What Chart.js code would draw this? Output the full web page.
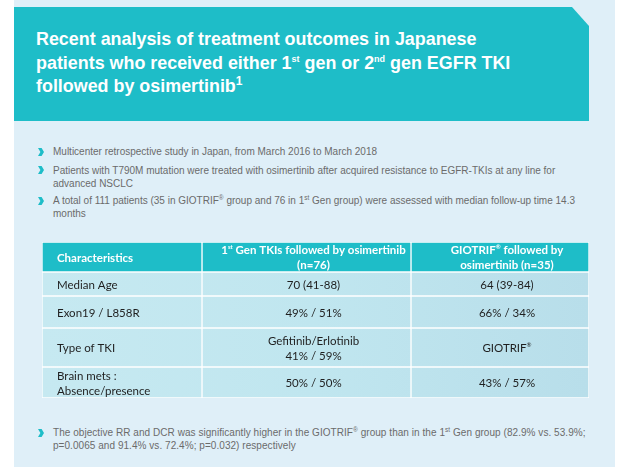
<!DOCTYPE html>
<html><head><meta charset="utf-8">
<script src="https://cdn.jsdelivr.net/npm/chart.js@4.4.1/dist/chart.umd.min.js"></script>
<style>
body{margin:0;width:632px;height:467px;background:#fff;position:relative;overflow:hidden;font-family:"Liberation Sans",Arial,sans-serif;}
#panel{position:absolute;left:14px;top:0;width:601px;height:467px;background:#dfeff8;}
#title{position:absolute;left:14px;top:7px;width:575px;height:114px;background:#1ebdc8;clip-path:polygon(0 0,558px 0,575px 19px,575px 114px,0 114px);}
#titletext{position:absolute;left:36px;top:28px;color:#fff;font-weight:bold;font-size:17.9px;line-height:23.5px;white-space:nowrap;}
#titletext .s{font-size:9px;vertical-align:7px;line-height:0;}
#titletext .s1{font-size:12px;vertical-align:7px;line-height:0;}
.b{position:absolute;left:53px;font-size:10px;line-height:13px;color:#6b6b6b;white-space:nowrap;}
.b .s{font-size:6.5px;vertical-align:4px;line-height:0;}
.chev{position:absolute;left:38px;width:6px;height:8px;}
#table{position:absolute;left:42px;top:242px;}
#table canvas{display:block;}
</style></head>
<body>
<div id="panel"></div>
<div id="title"></div>
<div id="titletext">Recent analysis of treatment outcomes in Japanese<br>patients who received either 1<span class="s">st</span> gen or 2<span class="s">nd</span> gen EGFR TKI<br>followed by osimertinib<span class="s1">1</span></div>

<svg class="chev" style="top:148px" viewBox="0 0 6 8"><polygon points="0,0 3.6,0 6,4 3.6,8 0,8 2.4,4" fill="#1ebdc8"/></svg>
<div class="b" style="top:145px">Multicenter retrospective study in Japan, from March 2016 to March 2018</div>
<svg class="chev" style="top:166px" viewBox="0 0 6 8"><polygon points="0,0 3.6,0 6,4 3.6,8 0,8 2.4,4" fill="#1ebdc8"/></svg>
<div class="b" style="top:163.5px">Patients with T790M mutation were treated with osimertinib after acquired resistance to EGFR-TKIs at any line for<br>advanced NSCLC</div>
<svg class="chev" style="top:197px" viewBox="0 0 6 8"><polygon points="0,0 3.6,0 6,4 3.6,8 0,8 2.4,4" fill="#1ebdc8"/></svg>
<div class="b" style="top:194px">A total of 111 patients (35 in GIOTRIF<span class="s">®</span> group and 76 in 1<span class="s">st</span> Gen group) were assessed with median follow-up time 14.3<br>months</div>

<div id="table"></div>

<svg class="chev" style="top:429px" viewBox="0 0 6 8"><polygon points="0,0 3.6,0 6,4 3.6,8 0,8 2.4,4" fill="#1ebdc8"/></svg>
<div class="b" style="top:426px;letter-spacing:0.05px">The objective RR and DCR was significantly higher in the GIOTRIF<span class="s">®</span> group than in the 1<span class="s">st</span> Gen group (82.9% vs. 53.9%;<br>p=0.0065 and 91.4% vs. 72.4%; p=0.032) respectively</div>

<script>
// ---- data ----
const headers = ['Characteristics', '1^{st} Gen TKIs followed by osimertinib\n(n=76)', 'GIOTRIF^{®} followed by\nosimertinib (n=35)'];
const characteristics = ['Median Age', 'Exon19 / L858R', 'Type of TKI', 'Brain mets :\nAbsence/presence'];
const firstGenValues = ['70 (41-88)', '49% / 51%', 'Gefitinib/Erlotinib\n41% / 59%', '50% / 50%'];
const giotrifValues = ['64 (39-84)', '66% / 34%', 'GIOTRIF^{®}', '43% / 57%'];

// ---- layout ----
const rowHeights = [30, 24, 32, 39, 31];
const colWidths = [160, 209, 178];
const tableWidth = colWidths.reduce((a, b) => a + b, 0);

const rows = [headers].concat(characteristics.map((c, i) => [c, firstGenValues[i], giotrifValues[i]]));

function parseRich(s) {
  const segs = [];
  const re = /\^\{([^}]*)\}/g;
  let last = 0, m;
  while ((m = re.exec(s))) {
    if (m.index > last) segs.push({ t: s.slice(last, m.index), sup: false });
    segs.push({ t: m[1], sup: true });
    last = re.lastIndex;
  }
  if (last < s.length) segs.push({ t: s.slice(last), sup: false });
  return segs;
}

function drawRich(ctx, text, x, y, align, size, bold) {
  const segs = parseRich(text);
  const w = bold ? 'bold ' : '';
  const mainFont = w + size + 'px Lato';
  const supFont = w + Math.round(size * 0.55) + 'px Lato';
  let total = 0;
  segs.forEach(sg => { ctx.font = sg.sup ? supFont : mainFont; sg.w = ctx.measureText(sg.t).width; total += sg.w; });
  let cx = align === 'left' ? x : x - total / 2;
  ctx.textAlign = 'left';
  ctx.textBaseline = 'middle';
  segs.forEach(sg => {
    ctx.font = sg.sup ? supFont : mainFont;
    ctx.fillText(sg.t, cx, sg.sup ? y - size * 0.3 : y);
    cx += sg.w;
  });
}

const cellText = {
  id: 'cellText',
  afterDatasetsDraw(chart, args, opts) {
    const ctx = chart.ctx;
    const header = opts.header;
    chart.data.datasets.forEach((ds, j) => {
      const el = chart.getDatasetMeta(j).data[0];
      const p = el.getProps(['x', 'y', 'base'], true);
      const left = Math.min(p.x, p.base), right = Math.max(p.x, p.base);
      const lines = ds.cellText.split('\n');
      const lh = 15;
      ctx.save();
      ctx.fillStyle = header ? '#ffffff' : '#1f1f1f';
      lines.forEach((ln, k) => {
        const yy = p.y + 0.8 + (k - (lines.length - 1) / 2) * lh;
        if (j === 0) drawRich(ctx, ln, left + 15, yy, 'left', 11.5, header);
        else drawRich(ctx, ln, (left + right) / 2 + 7, yy, 'center', 11.5, header);
      });
      ctx.restore();
    });
  }
};

const host = document.getElementById('table');
rows.forEach((row, i) => {
  const cv = document.createElement('canvas');
  cv.width = tableWidth; cv.height = rowHeights[i];
  cv.style.width = tableWidth + 'px'; cv.style.height = rowHeights[i] + 'px';
  host.appendChild(cv);
  const header = i === 0;
  new Chart(cv, {
    type: 'bar',
    data: {
      labels: [row[0]],
      datasets: colWidths.map((w, j) => ({
        data: [w],
        cellText: row[j],
        backgroundColor: header ? '#1ebdc8' : (c => {
          const a = c.chart.chartArea;
          if (!a) return '#c0e5ee';
          const g = c.chart.ctx.createLinearGradient(a.left, 0, a.right, 0);
          g.addColorStop(0, '#c6e9f1');
          g.addColorStop(0.5, '#c0e6ef');
          g.addColorStop(1, '#b8deea');
          return g;
        }),
        borderColor: '#ffffff',
        borderWidth: 1,
        borderSkipped: false,
        categoryPercentage: 1,
        barPercentage: 1
      }))
    },
    options: {
      indexAxis: 'y',
      responsive: false,
      animation: false,
      devicePixelRatio: 1,
      events: [],
      layout: { padding: 0 },
      scales: {
        x: { stacked: true, display: false, min: 0, max: tableWidth },
        y: { stacked: true, display: false }
      },
      plugins: { legend: { display: false }, tooltip: { enabled: false }, cellText: { header } }
    },
    plugins: [cellText]
  });
});
</script>
</body></html>
